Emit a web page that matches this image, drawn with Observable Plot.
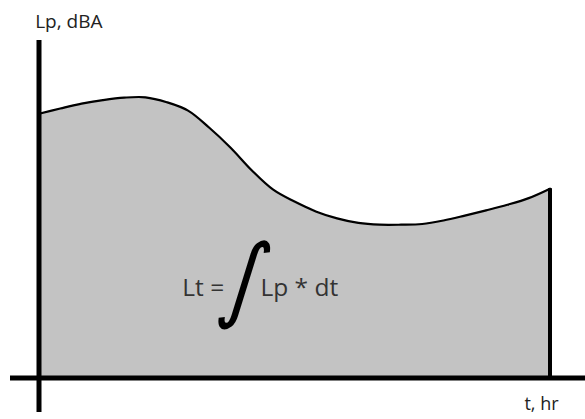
<!DOCTYPE html>
<html>
<head>
<meta charset="utf-8">
<script src="https://cdn.jsdelivr.net/npm/d3@7"></script>
<script src="https://cdn.jsdelivr.net/npm/@observablehq/plot@0.6"></script>
<style>
  html, body { margin: 0; padding: 0; background: #fff; }
  svg { display: block; }
</style>
</head>
<body>
<div id="chart"></div>
<script>
// Time, hours
const hours = [0,1,2,3,4,5,6,7,8,9,10,11,12,13,14,15,16,17,18,19,20,21,22,23,24];
// Sound pressure level, dBA
const levels = [75.5,77.0,78.4,79.4,80.1,80.2,78.8,76.4,71.5,65.8,59.3,53.8,50.4,47.6,45.6,44.3,43.8,43.8,44.0,45.0,46.4,47.9,49.5,51.4,54.1];
const yLabel = "Lp, dBA";
const xLabel = "t, hr";
const formulaLeft = "Lt =";
const formulaRight = "Lp * dt";
const integralSign = "∫";

const data = hours.map((t, i) => ({t, Lp: levels[i]}));
const last = data[data.length - 1];
const font = "Open Sans, Noto Sans, sans-serif";

const chart = Plot.plot({
  width: 585,
  height: 419,
  marginLeft: 10,
  marginRight: 0,
  marginTop: 40,
  marginBottom: 7,
  x: {domain: [0, 24], range: [38.5, 549.5], axis: null},
  y: {domain: [0, 96.43], range: [377.5, 40], axis: null},
  style: {fontFamily: font, background: "#fff"},
  marks: [
    Plot.areaY(data, {x: "t", y: "Lp", fill: "#c3c3c3", curve: "catmull-rom"}),
    Plot.lineY(data, {x: "t", y: "Lp", stroke: "#000", strokeWidth: 2.2, curve: "catmull-rom"}),
    Plot.ruleX([last], {x: "t", y1: 0, y2: "Lp", stroke: "#000", strokeWidth: 4}),
    Plot.ruleY([0], {stroke: "#000", strokeWidth: 5}),
    Plot.ruleX([0], {stroke: "#000", strokeWidth: 5}),
    Plot.text([yLabel], {x: -0.18, y: 101.6, text: d => d, textAnchor: "start", fontSize: 19, fill: "#222"}),
    Plot.text([xLabel], {x: 22.8, y: -7.6, text: d => d, textAnchor: "start", fontSize: 18, fill: "#222"}),
    Plot.text([formulaLeft], {x: 8.7, y: 25.6, text: d => d, textAnchor: "end", fontSize: 24.5, fill: "#333"}),
    Plot.text([formulaRight], {x: 10.4, y: 25.6, text: d => d, textAnchor: "start", fontSize: 24.5, fill: "#333"}),
    Plot.text([integralSign], {x: 9.7, y: 27.8, text: d => d, fontSize: 92, fontWeight: "normal", fill: "#000", fontFamily: "DejaVu Sans", className: "integral"})
  ]
});
document.getElementById("chart").appendChild(chart);
// slant the hand-drawn looking integral sign
d3.select(chart).selectAll(".integral text").each(function() {
  const t = this.getAttribute("transform") || "";
  this.setAttribute("transform", t + " skewX(-15) scale(0.9,1)");
});
</script>
</body>
</html>
